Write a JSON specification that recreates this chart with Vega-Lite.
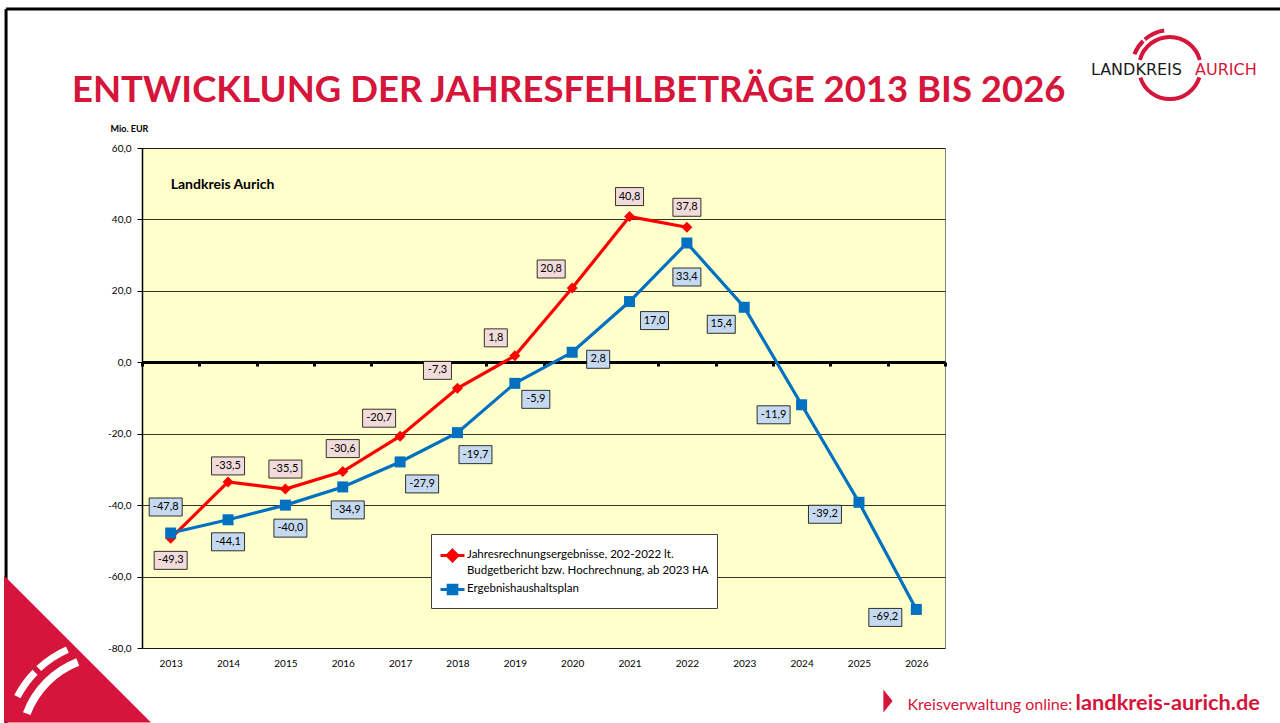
{
  "$schema": "https://vega.github.io/schema/vega-lite/v6.json",
  "width": 803,
  "height": 500,
  "autosize": "none",
  "padding": {"left": 142, "top": 148, "right": 335, "bottom": 75},
  "background": "white",
  "config": {
    "view": {"fill": "#FFFFCC", "stroke": "#808080", "strokeWidth": 1},
    "font": "Lato"
  },
  "title": {
    "text": "ENTWICKLUNG DER JAHRESFEHLBETRÄGE 2013 BIS 2026",
    "anchor": "start",
    "frame": "group",
    "dx": -70,
    "dy": 151,
    "offset": 20,
    "font": "Lato",
    "fontSize": 36.5,
    "fontWeight": "bold",
    "color": "#D5153A",
    "baseline": "alphabetic"
  },
  "datasets": {
    "main": [
      {"year": 2013, "series": "Jahresrechnungsergebnisse, 202-2022 lt. Budgetbericht bzw. Hochrechnung, ab 2023 HA", "value": -49.3},
      {"year": 2014, "series": "Jahresrechnungsergebnisse, 202-2022 lt. Budgetbericht bzw. Hochrechnung, ab 2023 HA", "value": -33.5},
      {"year": 2015, "series": "Jahresrechnungsergebnisse, 202-2022 lt. Budgetbericht bzw. Hochrechnung, ab 2023 HA", "value": -35.5},
      {"year": 2016, "series": "Jahresrechnungsergebnisse, 202-2022 lt. Budgetbericht bzw. Hochrechnung, ab 2023 HA", "value": -30.6},
      {"year": 2017, "series": "Jahresrechnungsergebnisse, 202-2022 lt. Budgetbericht bzw. Hochrechnung, ab 2023 HA", "value": -20.7},
      {"year": 2018, "series": "Jahresrechnungsergebnisse, 202-2022 lt. Budgetbericht bzw. Hochrechnung, ab 2023 HA", "value": -7.3},
      {"year": 2019, "series": "Jahresrechnungsergebnisse, 202-2022 lt. Budgetbericht bzw. Hochrechnung, ab 2023 HA", "value": 1.8},
      {"year": 2020, "series": "Jahresrechnungsergebnisse, 202-2022 lt. Budgetbericht bzw. Hochrechnung, ab 2023 HA", "value": 20.8},
      {"year": 2021, "series": "Jahresrechnungsergebnisse, 202-2022 lt. Budgetbericht bzw. Hochrechnung, ab 2023 HA", "value": 40.8},
      {"year": 2022, "series": "Jahresrechnungsergebnisse, 202-2022 lt. Budgetbericht bzw. Hochrechnung, ab 2023 HA", "value": 37.8},
      {"year": 2013, "series": "Ergebnishaushaltsplan", "value": -47.8},
      {"year": 2014, "series": "Ergebnishaushaltsplan", "value": -44.1},
      {"year": 2015, "series": "Ergebnishaushaltsplan", "value": -40.0},
      {"year": 2016, "series": "Ergebnishaushaltsplan", "value": -34.9},
      {"year": 2017, "series": "Ergebnishaushaltsplan", "value": -27.9},
      {"year": 2018, "series": "Ergebnishaushaltsplan", "value": -19.7},
      {"year": 2019, "series": "Ergebnishaushaltsplan", "value": -5.9},
      {"year": 2020, "series": "Ergebnishaushaltsplan", "value": 2.8},
      {"year": 2021, "series": "Ergebnishaushaltsplan", "value": 17.0},
      {"year": 2022, "series": "Ergebnishaushaltsplan", "value": 33.4},
      {"year": 2023, "series": "Ergebnishaushaltsplan", "value": 15.4},
      {"year": 2024, "series": "Ergebnishaushaltsplan", "value": -11.9},
      {"year": 2025, "series": "Ergebnishaushaltsplan", "value": -39.2},
      {"year": 2026, "series": "Ergebnishaushaltsplan", "value": -69.2}
    ]
  },
  "data": {"name": "main"},
  "resolve": {"axis": {"x": "independent", "y": "independent"}},
  "layer": [
    {
      "data": {"values": [{}]},
      "mark": {"type": "rule", "color": "black", "strokeWidth": 3},
      "encoding": {
        "x": {"datum": 2010.13, "type": "quantitative", "scale": {"domain": [2012.5, 2026.5], "nice": false, "zero": false}, "axis": null},
        "x2": {"datum": 2032.6},
        "y": {"datum": 98.9, "type": "quantitative", "scale": {"domain": [-80, 60], "nice": false, "zero": false}, "axis": null}
      }
    },
    {
      "data": {"values": [{}]},
      "mark": {"type": "rule", "color": "black", "strokeWidth": 3},
      "encoding": {
        "x": {"datum": 2010.13, "type": "quantitative", "scale": {"domain": [2012.5, 2026.5], "nice": false, "zero": false}, "axis": null},
        "y": {"datum": 98.9, "type": "quantitative", "scale": {"domain": [-80, 60], "nice": false, "zero": false}, "axis": null},
        "y2": {"datum": -102}
      }
    },
    {
      "data": {"values": [{}]},
      "mark": {"type": "point", "shape": "M-1,-1L1,1L-1,1Z", "size": 21609, "filled": true, "color": "#D5153A", "opacity": 1},
      "encoding": {
        "x": {"datum": 2011.3755, "type": "quantitative", "scale": {"domain": [2012.5, 2026.5], "nice": false, "zero": false}, "axis": null},
        "y": {"datum": -80.28, "type": "quantitative", "scale": {"domain": [-80, 60], "nice": false, "zero": false}, "axis": null}
      }
    },
    {
      "data": {"values": [{}]},
      "mark": {"type": "arc", "radius": 108, "radius2": 101, "theta": -1.09, "theta2": -0.8, "fill": "white"},
      "encoding": {
        "x": {"datum": 2011.942, "type": "quantitative", "scale": {"domain": [2012.5, 2026.5], "nice": false, "zero": false}, "axis": null},
        "y": {"datum": -107.16, "type": "quantitative", "scale": {"domain": [-80, 60], "nice": false, "zero": false}, "axis": null}
      }
    },
    {
      "data": {"values": [{}]},
      "mark": {"type": "arc", "radius": 108, "radius2": 101, "theta": -0.75, "theta2": -0.42, "fill": "white"},
      "encoding": {
        "x": {"datum": 2011.942, "type": "quantitative", "scale": {"domain": [2012.5, 2026.5], "nice": false, "zero": false}, "axis": null},
        "y": {"datum": -107.16, "type": "quantitative", "scale": {"domain": [-80, 60], "nice": false, "zero": false}, "axis": null}
      }
    },
    {
      "data": {"values": [{}]},
      "mark": {"type": "arc", "radius": 93, "radius2": 85, "theta": -1.21, "theta2": -0.37, "fill": "white"},
      "encoding": {
        "x": {"datum": 2011.942, "type": "quantitative", "scale": {"domain": [2012.5, 2026.5], "nice": false, "zero": false}, "axis": null},
        "y": {"datum": -107.16, "type": "quantitative", "scale": {"domain": [-80, 60], "nice": false, "zero": false}, "axis": null}
      }
    },
    {
      "data": {"values": [{}]},
      "mark": {"type": "arc", "radius": 33, "radius2": 29, "theta": -1.31, "theta2": 1.31, "fill": "#D5153A"},
      "encoding": {
        "x": {"datum": 2030.42, "type": "quantitative", "scale": {"domain": [2012.5, 2026.5], "nice": false, "zero": false}, "axis": null},
        "y": {"datum": 82.4, "type": "quantitative", "scale": {"domain": [-80, 60], "nice": false, "zero": false}, "axis": null}
      }
    },
    {
      "data": {"values": [{}]},
      "mark": {"type": "arc", "radius": 33, "radius2": 29, "theta": 1.88, "theta2": 4.4, "fill": "#D5153A"},
      "encoding": {
        "x": {"datum": 2030.42, "type": "quantitative", "scale": {"domain": [2012.5, 2026.5], "nice": false, "zero": false}, "axis": null},
        "y": {"datum": 82.4, "type": "quantitative", "scale": {"domain": [-80, 60], "nice": false, "zero": false}, "axis": null}
      }
    },
    {
      "data": {"values": [{}]},
      "mark": {"type": "arc", "radius": 40, "radius2": 36, "theta": -1.2, "theta2": -0.78, "fill": "#D5153A"},
      "encoding": {
        "x": {"datum": 2030.42, "type": "quantitative", "scale": {"domain": [2012.5, 2026.5], "nice": false, "zero": false}, "axis": null},
        "y": {"datum": 82.4, "type": "quantitative", "scale": {"domain": [-80, 60], "nice": false, "zero": false}, "axis": null}
      }
    },
    {
      "data": {"values": [{}]},
      "mark": {"type": "arc", "radius": 40, "radius2": 36, "theta": -0.72, "theta2": -0.15, "fill": "#D5153A"},
      "encoding": {
        "x": {"datum": 2030.42, "type": "quantitative", "scale": {"domain": [2012.5, 2026.5], "nice": false, "zero": false}, "axis": null},
        "y": {"datum": 82.4, "type": "quantitative", "scale": {"domain": [-80, 60], "nice": false, "zero": false}, "axis": null}
      }
    },
    {
      "data": {"values": [{}]},
      "mark": {"type": "text", "text": "LANDKREIS", "align": "right", "baseline": "middle", "font": "DejaVu Sans", "fontSize": 16, "color": "#1a1a1a"},
      "encoding": {
        "x": {"datum": 2030.632, "type": "quantitative", "scale": {"domain": [2012.5, 2026.5], "nice": false, "zero": false}, "axis": null},
        "y": {"datum": 81.84, "type": "quantitative", "scale": {"domain": [-80, 60], "nice": false, "zero": false}, "axis": null}
      }
    },
    {
      "data": {"values": [{}]},
      "mark": {"type": "text", "text": "AURICH", "align": "left", "baseline": "middle", "font": "DejaVu Sans", "fontSize": 16, "color": "#D5153A"},
      "encoding": {
        "x": {"datum": 2030.86, "type": "quantitative", "scale": {"domain": [2012.5, 2026.5], "nice": false, "zero": false}, "axis": null},
        "y": {"datum": 81.84, "type": "quantitative", "scale": {"domain": [-80, 60], "nice": false, "zero": false}, "axis": null}
      }
    },
    {
      "data": {"values": [{}]},
      "mark": {"type": "point", "shape": "M-0.4,-1L0.4,0L-0.4,1Z", "size": 529, "filled": true, "color": "#D5153A", "opacity": 1},
      "encoding": {
        "x": {"datum": 2025.506, "type": "quantitative", "scale": {"domain": [2012.5, 2026.5], "nice": false, "zero": false}, "axis": null},
        "y": {"datum": -94.84, "type": "quantitative", "scale": {"domain": [-80, 60], "nice": false, "zero": false}, "axis": null}
      }
    },
    {
      "mark": {"type": "line", "strokeWidth": 3.2},
      "encoding": {
        "x": {
          "field": "year", "type": "quantitative",
          "scale": {"domain": [2012.5, 2026.5], "nice": false, "zero": false},
          "axis": {
            "values": [2013, 2014, 2015, 2016, 2017, 2018, 2019, 2020, 2021, 2022, 2023, 2024, 2025, 2026],
            "format": "d", "ticks": false, "domain": false, "grid": false,
            "labelFont": "Lato", "labelFontSize": 10, "labelColor": "black", "labelPadding": 10,
            "title": "Kreisverwaltung online:", "titleFont": "Lato", "titleFontSize": 16, "titleFontWeight": "normal",
            "titleColor": "#D5153A", "titleX": 765, "titleY": 61, "titleAlign": "left", "titleBaseline": "alphabetic"
          }
        },
        "y": {
          "field": "value", "type": "quantitative",
          "scale": {"domain": [-80, 60], "nice": false, "zero": false},
          "axis": {
            "values": [-80, -60, -40, -20, 0, 20, 40, 60],
            "labelExpr": "replace(replace(format(datum.value, '.1f'), '.', ','), '−', '-')",
            "grid": true, "gridColor": "black", "gridWidth": 0.8, "gridOpacity": 1,
            "domainColor": "black", "domainWidth": 1.5,
            "tickColor": "black", "tickSize": 5, "tickWidth": 1,
            "labelFont": "Lato", "labelFontSize": 10, "labelColor": "black", "labelPadding": 6,
            "title": "Mio. EUR", "titleAngle": 0, "titleAlign": "left", "titleBaseline": "middle",
            "titleX": -32, "titleY": -20, "titleFont": "Lato", "titleFontSize": 9, "titleFontWeight": "bold", "titleColor": "black"
          }
        },
        "color": {
          "field": "series", "type": "nominal",
          "scale": {"domain": ["Jahresrechnungsergebnisse, 202-2022 lt. Budgetbericht bzw. Hochrechnung, ab 2023 HA", "Ergebnishaushaltsplan"], "range": ["#FF0000", "#0070C0"]},
          "legend": {
            "orient": "none", "legendX": 289, "legendY": 386, "title": null,
            "fillColor": "white", "strokeColor": "#404040", "padding": 8,
            "labelFont": "Lato", "labelFontSize": 11.5, "labelColor": "black", "labelLimit": 0,
            "symbolSize": 576, "symbolStrokeWidth": 3, "rowPadding": 0, "labelOffset": 1,
            "labelExpr": "datum.label == 'Ergebnishaushaltsplan' ? datum.label : ['Jahresrechnungsergebnisse, 202-2022 lt.', 'Budgetbericht bzw. Hochrechnung, ab 2023 HA']",
            "encode": {
              "symbols": {
                "update": {
                  "shape": {"signal": "datum.value == 'Ergebnishaushaltsplan' ? 'M-1,0H1M-0.36,-0.36H0.36V0.36H-0.36ZM-0.14,-0.14H0.14V0.14H-0.14Z' : 'M-1,0H1M0,-0.44L0.44,0L0,0.44L-0.44,0ZM0,-0.2L0.2,0L0,0.2L-0.2,0Z'"},
                  "fill": {"scale": "color", "field": "value"},
                  "stroke": {"scale": "color", "field": "value"}
                }
              },
              "labels": {
                "update": {
                  "baseline": {"value": "top"},
                  "dy": {"value": -7},
                  "lineHeight": {"value": 16}
                }
              }
            }
          }
        }
      }
    },
    {
      "transform": [{"filter": "datum.series != 'Ergebnishaushaltsplan'"}],
      "mark": {"type": "point", "filled": true, "size": 121, "opacity": 1, "shape": "diamond", "color": "#FF0000"},
      "encoding": {
        "x": {
          "field": "year", "type": "quantitative",
          "scale": {"domain": [2012.5, 2026.5], "nice": false, "zero": false},
          "axis": {
            "orient": "bottom", "offset": -286,
            "values": [2012.5, 2013.5, 2014.5, 2015.5, 2016.5, 2017.5, 2018.5, 2019.5, 2020.5, 2021.5, 2022.5, 2023.5, 2024.5, 2025.5, 2026.5],
            "labels": false, "ticks": true, "tickSize": 4, "tickColor": "black", "tickWidth": 3,
            "domainColor": "black", "domainWidth": 3, "grid": false,
            "title": "landkreis-aurich.de", "titleFont": "Lato", "titleFontSize": 21.8, "titleFontWeight": "bold",
            "titleColor": "#D5153A", "titleX": 933, "titleY": 347, "titleAlign": "left", "titleBaseline": "alphabetic"
          }
        },
        "y": {"field": "value", "type": "quantitative", "scale": {"domain": [-80, 60], "nice": false, "zero": false}, "axis": null}
      }
    },
    {
      "transform": [{"filter": "datum.series == 'Ergebnishaushaltsplan'"}],
      "mark": {"type": "point", "filled": true, "size": 121, "opacity": 1, "shape": "square", "color": "#0070C0"},
      "encoding": {
        "x": {"field": "year", "type": "quantitative", "scale": {"domain": [2012.5, 2026.5], "nice": false, "zero": false}, "axis": null},
        "y": {"field": "value", "type": "quantitative", "scale": {"domain": [-80, 60], "nice": false, "zero": false}, "axis": null}
      }
    },
    {
      "transform": [
        {"calculate": "replace(replace(format(datum.value, '.1f'), '.', ','), '−', '-')", "as": "label"},
        {"calculate": "datum.series == 'Ergebnishaushaltsplan' ? [-5,0,5,5,22,18,21,26,25,0,-23,-28,-34,-31][datum.year-2013] : [0,0,0,0,-21,-20,-19,-21,0,0][datum.year-2013]", "as": "ox"},
        {"calculate": "datum.series == 'Ergebnishaushaltsplan' ? [-26,22,23,23,22,22,16,7,19,34,17,10,12,8][datum.year-2013] : [22,-16,-20,-23,-18,-18,-18,-19,-20,-20][datum.year-2013]", "as": "oy"}
      ],
      "layer": [
        {
          "mark": {"type": "rect", "width": {"expr": "5*length(datum.label)+8"}, "height": 18, "xOffset": {"expr": "datum.ox"}, "yOffset": {"expr": "datum.oy"}, "stroke": "black", "strokeWidth": 0.8},
          "encoding": {
            "x": {"field": "year", "type": "quantitative", "scale": {"domain": [2012.5, 2026.5], "nice": false, "zero": false}, "axis": null},
            "y": {"field": "value", "type": "quantitative", "scale": {"domain": [-80, 60], "nice": false, "zero": false}, "axis": null},
            "fill": {
              "field": "series", "type": "nominal",
              "scale": {"domain": ["Jahresrechnungsergebnisse, 202-2022 lt. Budgetbericht bzw. Hochrechnung, ab 2023 HA", "Ergebnishaushaltsplan"], "range": ["#F2DCDB", "#C5D9F1"]},
              "legend": null
            }
          }
        },
        {
          "mark": {"type": "text", "dx": {"expr": "datum.ox"}, "dy": {"expr": "datum.oy"}, "font": "Lato", "fontSize": 11, "color": "black", "align": "center", "baseline": "middle"},
          "encoding": {
            "x": {"field": "year", "type": "quantitative", "scale": {"domain": [2012.5, 2026.5], "nice": false, "zero": false}, "axis": null},
            "y": {"field": "value", "type": "quantitative", "scale": {"domain": [-80, 60], "nice": false, "zero": false}, "axis": null},
            "text": {"field": "label", "type": "nominal"}
          }
        }
      ]
    },
    {
      "data": {"values": [{}]},
      "mark": {"type": "text", "text": "Landkreis Aurich", "align": "left", "baseline": "middle", "font": "Lato", "fontSize": 14, "fontWeight": "bold", "color": "black"},
      "encoding": {
        "x": {"datum": 2013, "type": "quantitative", "scale": {"domain": [2012.5, 2026.5], "nice": false, "zero": false}, "axis": null},
        "y": {"datum": 49.64, "type": "quantitative", "scale": {"domain": [-80, 60], "nice": false, "zero": false}, "axis": null}
      }
    }
  ]
}
